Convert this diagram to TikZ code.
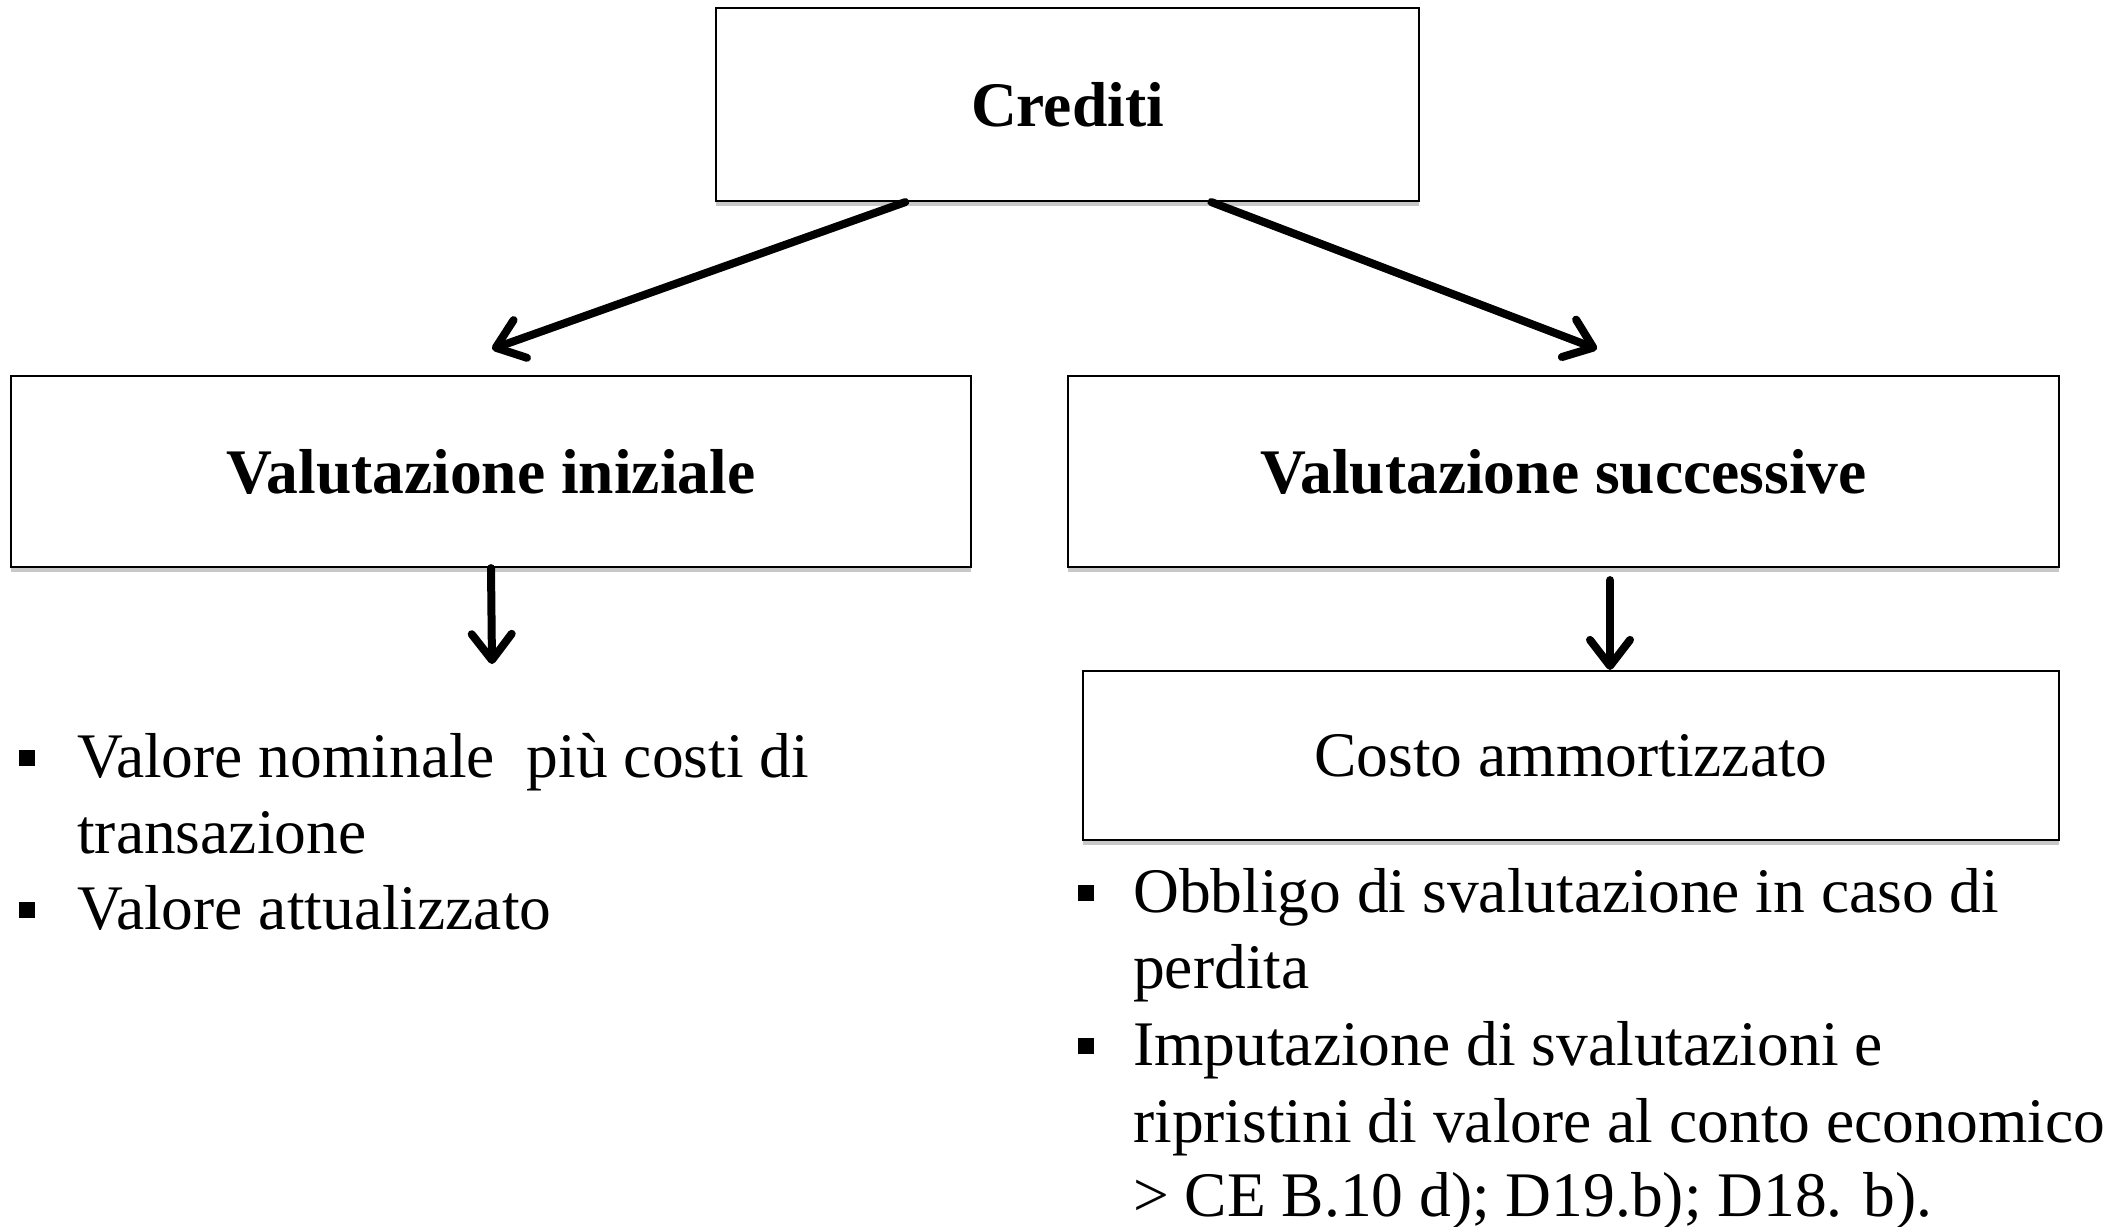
\documentclass[tikz,border=0pt]{standalone}
\usepackage{fontspec}
\setmainfont{Liberation Serif}
\usetikzlibrary{arrows.meta,shadows,calc}
\tikzset{
  box/.style={draw=black, line width=2.2pt, fill=white, rectangle, inner sep=0pt,
    drop shadow={shadow xshift=0pt, shadow yshift=-5pt, opacity=0.3, fill=black!70}},
  big/.style={font=\fontsize{63.5}{76}\selectfont},
  arr/.style={draw=black, line width=8pt, line cap=round, line join=round,
    -{Straight Barb[length=26pt,width=40pt,round]},
    preaction={draw=black, opacity=0.18, transform canvas={yshift=-4pt}}},
  txtline/.style={anchor=base west, inner sep=0pt, font=\fontsize{63.5}{76}\selectfont},
  bulletsq/.style={fill=black}}
\begin{document}
\begin{tikzpicture}[x=1pt,y=-1pt]
\useasboundingbox (0,0) rectangle (2127,1226);
\fill[white] (0,0) rectangle (2127,1226);

% boxes
\node[box, big, minimum width=703pt, minimum height=193pt] (cred) at (1067.5,104.5) {\bfseries Crediti};
\node[box, big, minimum width=960pt, minimum height=191pt] (ini) at (491,471.5) {\bfseries Valutazione iniziale};
\node[box, big, minimum width=991pt, minimum height=191pt] (succ) at (1563.5,471.5) {\bfseries Valutazione successive};
\node[box, big, minimum width=976pt, minimum height=169pt] (costo) at (1571,755.5) {Costo ammortizzato};

% connector ends
\coordinate (c1) at ($(cred.south west)!0.27!(cred.south east)$);
\coordinate (c2) at ($(cred.south west)!0.704!(cred.south east)$);
\coordinate (t1) at (492,349);
\coordinate (t2) at (1597,349);
\coordinate (t3) at (492,664);
\coordinate (s4) at ($(succ.south)+(46.5,12)$);

\draw[arr] (c1) -- (t1);
\draw[arr] (c2) -- (t2);
\draw[arr] (ini.south) -- (t3);
\draw[arr] (s4) -- (s4 |- costo.north);

% left bullet list
\node[txtline] (l1) at (77,777) {Valore nominale \ più costi di};
\node[txtline] (l2) at (77,853) {transazione};
\node[txtline] (l3) at (77,929) {Valore attualizzato};
\fill[bulletsq] ($(l1.base west)+(-58,-27)$) rectangle ++(16,16);
\fill[bulletsq] ($(l3.base west)+(-58,-27)$) rectangle ++(16,16);

% right bullet list
\node[txtline] (r1) at (1133,912) {Obbligo di svalutazione in caso di};
\node[txtline] (r2) at (1133,988) {perdita};
\node[txtline] (r3) at (1133,1065) {Imputazione di svalutazioni e};
\node[txtline] (r4) at (1133,1142) {ripristini di valore al conto economico};
\node[txtline] (r5) at (1133,1216) {> CE B.10 d); D19.b); D18. b).};
\fill[bulletsq] ($(r1.base west)+(-55,-27)$) rectangle ++(16,16);
\fill[bulletsq] ($(r3.base west)+(-55,-27)$) rectangle ++(16,16);
\end{tikzpicture}
\end{document}
